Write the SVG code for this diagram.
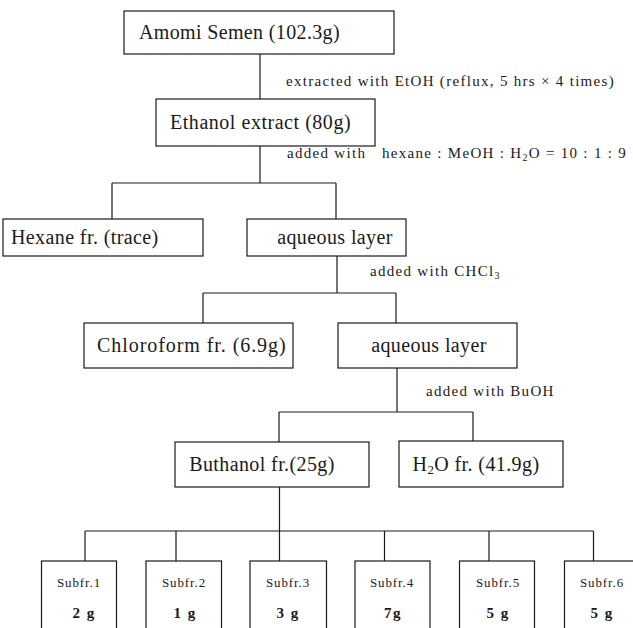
<svg xmlns="http://www.w3.org/2000/svg" width="633" height="628" viewBox="0 0 633 628">
<style>
.box{fill:#fff;stroke:#1a1a1a;stroke-width:1.2}
.ln{fill:none;stroke:#1a1a1a;stroke-width:1.2}
.bt{font-family:"Liberation Serif","Times New Roman",serif;font-size:20px;letter-spacing:0.4px;fill:#1a1a1a;text-anchor:middle}
.bs{font-family:"Liberation Serif","Times New Roman",serif;font-size:20px;letter-spacing:0.4px;fill:#1a1a1a;text-anchor:start}
.lb{font-family:"Liberation Serif","Times New Roman",serif;font-size:15px;letter-spacing:1.3px;fill:#1a1a1a}
.sf{font-family:"Liberation Serif","Times New Roman",serif;font-size:13px;letter-spacing:0.9px;fill:#1a1a1a;text-anchor:middle}
.sg{font-family:"Liberation Serif","Times New Roman",serif;font-size:15px;font-weight:bold;letter-spacing:1.5px;fill:#1a1a1a;text-anchor:middle}
</style>
<rect width="633" height="628" fill="#fff"/>
<g id="connectors">
<path class="ln" d="M260 54V99"/>
<path class="ln" d="M260 146V183M112 183H336M112 183V219M336 183V219"/>
<path class="ln" d="M337 256V293M203 293H396M203 293V323M396 293V323"/>
<path class="ln" d="M397 368V412M279 412H473M279 412V442M473 412V441"/>
<path class="ln" d="M279.5 487V531M85 531H593.5M85 531V561M176 531V561M279.5 531V561M384.5 531V561M489 531V561M593.5 531V561"/>
</g>
<g id="labels">
<text class="lb" x="286" y="86">extracted with EtOH (reflux, 5 hrs × 4 times)</text>
<text class="lb" x="287" y="158">added with<tspan x="382">hexane : MeOH : H</tspan><tspan font-size="10px" dy="3">2</tspan><tspan dy="-3">O = 10 : 1 : 9</tspan></text>
<text class="lb" x="370" y="276">added with CHCl<tspan font-size="10px" dy="3">3</tspan></text>
<text class="lb" x="426" y="396">added with BuOH</text>
</g>
<g id="amomi"><rect class="box" x="124" y="11" width="270" height="43"/><text class="bs" x="139" y="39" textLength="201" lengthAdjust="spacing">Amomi Semen (102.3g)</text></g>
<g id="ethanol"><rect class="box" x="156" y="99" width="219" height="47"/><text class="bs" x="170" y="129" textLength="181" lengthAdjust="spacing">Ethanol extract (80g)</text></g>
<g id="hexane"><rect class="box" x="3" y="219" width="200" height="37"/><text class="bs" x="11" y="244">Hexane fr. (trace)</text></g>
<g id="aqueous1"><rect class="box" x="247" y="219" width="159" height="37"/><text class="bt" x="335" y="244">aqueous layer</text></g>
<g id="chloroform"><rect class="box" x="84" y="323" width="209" height="45"/><text class="bs" x="97" y="352" textLength="189" lengthAdjust="spacing">Chloroform fr. (6.9g)</text></g>
<g id="aqueous2"><rect class="box" x="338" y="323" width="179" height="45"/><text class="bt" x="429" y="352">aqueous layer</text></g>
<g id="butanol"><rect class="box" x="175" y="442" width="194" height="45"/><text class="bt" x="262" y="471">Buthanol fr.(25g)</text></g>
<g id="water"><rect class="box" x="399" y="441" width="164" height="46"/><text class="bt" x="476" y="471">H<tspan font-size="13px" dy="3">2</tspan><tspan dy="-3">O fr. (41.9g)</tspan></text></g>
<g id="subfr1"><rect class="box" x="41.5" y="561" width="75" height="80"/><text class="sf" x="79" y="587">Subfr.1</text><text class="sg" x="84" y="618">2 g</text></g>
<g id="subfr2"><rect class="box" x="146" y="561" width="75.5" height="80"/><text class="sf" x="184" y="587">Subfr.2</text><text class="sg" x="185" y="618">1 g</text></g>
<g id="subfr3"><rect class="box" x="250" y="561" width="76.5" height="80"/><text class="sf" x="288" y="587">Subfr.3</text><text class="sg" x="288" y="618">3 g</text></g>
<g id="subfr4"><rect class="box" x="355" y="561" width="75" height="80"/><text class="sf" x="392" y="587">Subfr.4</text><text class="sg" x="393" y="618">7g</text></g>
<g id="subfr5"><rect class="box" x="459.5" y="561" width="75" height="80"/><text class="sf" x="498" y="587">Subfr.5</text><text class="sg" x="498" y="618">5 g</text></g>
<g id="subfr6"><rect class="box" x="564.5" y="561" width="75" height="80"/><text class="sf" x="602" y="587">Subfr.6</text><text class="sg" x="602" y="618">5 g</text></g>
</svg>
